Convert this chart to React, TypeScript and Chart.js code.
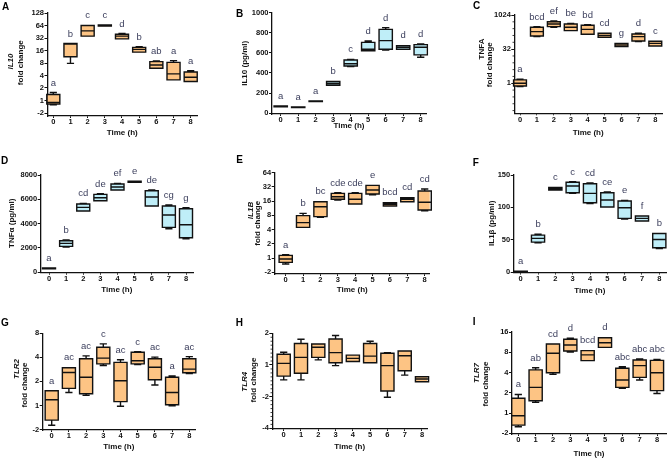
import React, { useEffect, useRef } from "react";
import { Chart, registerables } from "chart.js";

Chart.register(...registerables);

// ---------- data ----------
const HOURS = [0, 1, 2, 3, 4, 5, 6, 7, 8];

// A: IL10 fold change (log2 units)
const A_MIN = [-0.34, 2.97, 5.12, 5.94, 4.91, 3.83, 2.55, 1.62, 1.5];
const A_Q1 = [-0.28, 3.5, 5.15, 5.95, 4.93, 3.87, 2.58, 1.65, 1.52];
const A_MED = [-0.15, 4.52, 5.57, 6.0, 5.15, 4.09, 2.84, 2.13, 1.86];
const A_Q3 = [0.48, 4.56, 6.0, 6.05, 5.3, 4.25, 3.11, 3.05, 2.28];
const A_MAX = [0.64, 4.56, 6.02, 6.07, 5.36, 4.3, 3.16, 3.19, 2.39];
const A_LETTERS = ["a", "b", "c", "c", "d", "b", "ab", "a", "a"];

// B: IL10 (pg/ml)
const B_MIN = [60, 52, 113, 275, 463, 619, 629, 632, 556];
const B_Q1 = [63, 55, 116, 278, 470, 622, 636, 636, 580];
const B_MED = [68, 58, 120, 295, 492, 636, 722, 656, 656];
const B_Q3 = [72, 62, 123, 315, 530, 705, 834, 672, 682];
const B_MAX = [74, 64, 125, 320, 536, 718, 851, 676, 689];
const B_LETTERS = ["a", "a", "a", "b", "c", "d", "d", "d", "d"];

// C: TNFA fold change (log2 units)
const C_MIN = [-0.49, 6.83, 8.2, 7.66, 7.12, 6.68, 5.32, 6.1, 5.41];
const C_Q1 = [-0.39, 6.93, 8.29, 7.71, 7.17, 6.73, 5.37, 6.2, 5.46];
const C_MED = [0.0, 7.56, 8.68, 8.2, 7.9, 7.02, 5.6, 6.83, 5.85];
const C_Q3 = [0.49, 8.2, 9.02, 8.68, 8.49, 7.32, 5.85, 7.22, 6.15];
const C_MAX = [0.59, 8.3, 9.12, 8.78, 8.58, 7.37, 5.9, 7.32, 6.2];
const C_LETTERS = ["a", "bcd", "ef", "be", "bd", "cd", "g", "d", "c"];

// D: TNFα (pg/ml)
const D_MIN = [260, 2062, 5000, 5850, 6740, 7380, 5415, 3574, 2750];
const D_Q1 = [280, 2117, 5031, 5883, 6763, 7400, 5443, 3684, 2831];
const D_MED = [310, 2364, 5333, 6130, 7010, 7450, 6185, 4701, 3904];
const D_Q3 = [340, 2584, 5608, 6405, 7257, 7490, 6708, 5443, 5223];
const D_MAX = [360, 2639, 5660, 6460, 7310, 7510, 6760, 5525, 5305];
const D_LETTERS = ["a", "b", "cd", "de", "ef", "e", "de", "cg", "g"];

// E: IL1B fold change (log2 units)
const E_MIN = [-0.42, 2.14, 2.86, 4.08, 3.78, 4.45, 3.64, 3.94, 3.33];
const E_Q1 = [-0.3, 2.16, 2.91, 4.13, 3.8, 4.5, 3.66, 3.96, 3.38];
const E_MED = [-0.07, 2.49, 3.61, 4.31, 4.13, 4.78, 3.78, 4.13, 3.92];
const E_Q3 = [0.19, 2.98, 3.96, 4.55, 4.55, 5.11, 3.89, 4.24, 4.71];
const E_MAX = [0.24, 3.14, 3.98, 4.6, 4.6, 5.15, 3.92, 4.27, 4.85];
const E_LETTERS = ["a", "b", "bc", "cde", "cde", "e", "bcd", "cd", "cd"];

// F: IL1β (pg/ml)
const F_MIN = [0, 45.4, 126, 121.6, 106, 100, 82, 78.5, 36.6];
const F_Q1 = [0.3, 46.4, 126.8, 122.7, 107.2, 100.5, 83, 78.9, 37.6];
const F_MED = [1, 52.1, 128.9, 133, 121.6, 111.3, 99.5, 83, 50.5];
const F_Q3 = [1.5, 57.2, 130.9, 138.7, 136.6, 122.7, 109.8, 86.6, 59.8];
const F_MAX = [2, 58.8, 131.5, 139.7, 137.6, 123.7, 110.8, 87, 60.3];
const F_LETTERS = ["a", "b", "c", "c", "cd", "ce", "e", "f", "b"];

// G: TLR2 fold change (log2 units)
const G_MIN = [-0.82, 0.54, 0.42, 1.66, -0.03, 1.7, 0.85, -0.01, 1.33];
const G_Q1 = [-0.61, 0.71, 0.49, 1.73, 0.16, 1.73, 1.07, 0.03, 1.36];
const G_MED = [0.24, 1.37, 1.17, 1.97, 1.03, 1.86, 1.59, 0.54, 1.51];
const G_Q3 = [0.61, 1.57, 1.94, 2.42, 1.79, 2.21, 1.94, 1.17, 1.94];
const G_MAX = [0.61, 1.58, 2.06, 2.56, 1.9, 2.24, 2.01, 1.23, 2.03];
const G_LETTERS = ["a", "ac", "ac", "c", "ac", "c", "ac", "a", "ac"];

// H: TLR4 fold change (log2 units)
const H_MIN = [-0.47, -0.47, 0.16, -0.02, 0.1, 0.06, -1.02, -0.32, -0.54];
const H_Q1 = [-0.35, -0.26, 0.24, 0.07, 0.11, 0.07, -0.82, -0.18, -0.53];
const H_MED = [0.05, 0.24, 0.56, 0.39, 0.21, 0.28, -0.02, 0.29, -0.44];
const H_Q3 = [0.34, 0.68, 0.66, 0.82, 0.31, 0.68, 0.37, 0.44, -0.37];
const H_MAX = [0.4, 0.81, 0.66, 0.93, 0.32, 0.75, 0.39, 0.45, -0.36];

// I: TLR7 fold change (log2 units)
const I_MIN = [-0.67, 0.53, 1.91, 3.01, 2.57, 3.22, 1.22, 1.63, 0.97];
const I_Q1 = [-0.59, 0.61, 1.99, 3.06, 2.59, 3.24, 1.27, 1.76, 1.11];
const I_MED = [-0.13, 1.27, 2.95, 3.36, 2.87, 3.47, 1.63, 2.34, 1.99];
const I_Q3 = [0.73, 2.13, 3.41, 3.64, 3.08, 3.72, 2.21, 2.62, 2.6];
const I_MAX = [0.92, 2.24, 3.41, 3.69, 3.1, 3.74, 2.29, 2.67, 2.65];
const I_LETTERS = ["a", "ab", "cd", "d", "bcd", "d", "abc", "abc", "abc"];

// tick values
const TICKS_A = [-1, 0, 1, 2, 3, 4, 5, 6, 7];
const TICKS_B = [0, 200, 400, 600, 800, 1000];
const TICKS_C = [0, 5, 10];
const MINOR_C = [-4, -3, -2, -1, 1, 2, 3, 4, 6, 7, 8, 9];
const TICKS_D = [0, 2000, 4000, 6000, 8000];
const TICKS_E = [-1, 0, 1, 2, 3, 4, 5, 6];
const TICKS_F = [0, 50, 100, 150];
const TICKS_G = [-1, 0, 1, 2, 3];
const TICKS_H = [-2, -1, 0, 1];
const MINOR_H = [-1.875, -1.75, -1.625, -1.5, -1.375, -1.25, -1.125, -0.875, -0.75, -0.625, -0.5, -0.375, -0.25, -0.125, 0.125, 0.25, 0.375, 0.5, 0.625, 0.75, 0.875];
const TICKS_I = [-1, 0, 1, 2, 3, 4];

// ---------- styling / layout ----------
const FONT = "'Liberation Sans', Arial, sans-serif";
const INK = "#111111";
const LETTER_INK = "#3b3e5c";
const ORANGE = "#fdc484";
const BLUE = "#bfeef8";
const TICK_SIZE = 7.5;
const TITLE_SIZE = 8;
const LINE_W = 1.4;

type TitleLine = { text: string; italic: boolean; x: number; y: number };
type PanelDef = {
  id: string;
  min: number[]; q1: number[]; med: number[]; q3: number[]; max: number[];
  letters: string[] | null;
  fill: string;
  log2: boolean;
  yTicks: number[];
  minor: number[] | null;
  yMin: number; yMax: number;
  cell: [number, number, number, number];
  area: [number, number, number, number];
  x0: number; x8: number;
  xTitleY: number;
  tag: [number, number];
  yTitle: TitleLine[];
};

const PANELS: PanelDef[] = [
  { id: "A", min: A_MIN, q1: A_Q1, med: A_MED, q3: A_Q3, max: A_MAX, letters: A_LETTERS, fill: ORANGE, log2: true,
    yTicks: TICKS_A, minor: null, yMin: -1.24, yMax: 7,
    cell: [0, 0, 223, 150], area: [47.5, 13, 197, 116], x0: 53.3, x8: 190.7, xTitleY: 132.7, tag: [2, 9.8],
    yTitle: [{ text: "IL10", italic: true, x: 11, y: 61.5 }, { text: "fold change", italic: false, x: 20.3, y: 62.7 }] },
  { id: "B", min: B_MIN, q1: B_Q1, med: B_MED, q3: B_Q3, max: B_MAX, letters: B_LETTERS, fill: BLUE, log2: false,
    yTicks: TICKS_B, minor: null, yMin: -8, yMax: 1000,
    cell: [223, 0, 446, 150], area: [272, 12.7, 426, 114], x0: 280.7, x8: 420.7, xTitleY: 126, tag: [236, 16.9],
    yTitle: [{ text: "IL10 (pg/ml)", italic: false, x: 244.7, y: 63.3 }] },
  { id: "C", min: C_MIN, q1: C_Q1, med: C_MED, q3: C_Q3, max: C_MAX, letters: C_LETTERS, fill: ORANGE, log2: true,
    yTicks: TICKS_C, minor: MINOR_C, yMin: -4.4, yMax: 10,
    cell: [446, 0, 668, 150], area: [514.3, 15, 662, 113.3], x0: 520, x8: 655.3, xTitleY: 132.7, tag: [473, 9],
    yTitle: [{ text: "TNFA", italic: false, x: 481.8, y: 49 }, { text: "fold change", italic: false, x: 489.3, y: 64.7 }] },
  { id: "D", min: D_MIN, q1: D_Q1, med: D_MED, q3: D_Q3, max: D_MAX, letters: D_LETTERS, fill: BLUE, log2: false,
    yTicks: TICKS_D, minor: null, yMin: -50, yMax: 8000,
    cell: [0, 150, 223, 300], area: [40.7, 175, 193, 272.7], x0: 49, x8: 186, xTitleY: 290, tag: [1, 164],
    yTitle: [{ text: "TNFα (pg/ml)", italic: false, x: 11.7, y: 223.3 }] },
  { id: "E", min: E_MIN, q1: E_Q1, med: E_MED, q3: E_Q3, max: E_MAX, letters: E_LETTERS, fill: ORANGE, log2: true,
    yTicks: TICKS_E, minor: null, yMin: -1.12, yMax: 6,
    cell: [223, 150, 446, 300], area: [274.7, 172.7, 429.7, 274], x0: 285.7, x8: 424.7, xTitleY: 289.3, tag: [236.3, 163.3],
    yTitle: [{ text: "IL1B", italic: true, x: 250.8, y: 210.5 }, { text: "fold change", italic: false, x: 257.5, y: 223.3 }] },
  { id: "F", min: F_MIN, q1: F_Q1, med: F_MED, q3: F_Q3, max: F_MAX, letters: F_LETTERS, fill: BLUE, log2: false,
    yTicks: TICKS_F, minor: null, yMin: -0.5, yMax: 150,
    cell: [446, 150, 668, 300], area: [513.7, 175, 666, 272.5], x0: 520.7, x8: 659.3, xTitleY: 291, tag: [472.7, 165.8],
    yTitle: [{ text: "IL1β (pg/ml)", italic: false, x: 491.5, y: 223.3 }] },
  { id: "G", min: G_MIN, q1: G_Q1, med: G_MED, q3: G_Q3, max: G_MAX, letters: G_LETTERS, fill: ORANGE, log2: true,
    yTicks: TICKS_G, minor: null, yMin: -1.02, yMax: 3,
    cell: [0, 300, 223, 458], area: [42.7, 333.3, 195, 430], x0: 51.7, x8: 189.3, xTitleY: 446.7, tag: [1, 326],
    yTitle: [{ text: "TLR2", italic: true, x: 16.7, y: 369 }, { text: "fold change", italic: false, x: 24.5, y: 385 }] },
  { id: "H", min: H_MIN, q1: H_Q1, med: H_MED, q3: H_Q3, max: H_MAX, letters: null, fill: ORANGE, log2: true,
    yTicks: TICKS_H, minor: MINOR_H, yMin: -2.02, yMax: 1,
    cell: [223, 300, 446, 458], area: [272.3, 333.3, 427, 429], x0: 283.7, x8: 422, xTitleY: 446.7, tag: [235.7, 326],
    yTitle: [{ text: "TLR4", italic: true, x: 245.2, y: 381.7 }, { text: "fold change", italic: false, x: 254.2, y: 380 }] },
  { id: "I", min: I_MIN, q1: I_Q1, med: I_MED, q3: I_Q3, max: I_MAX, letters: I_LETTERS, fill: ORANGE, log2: true,
    yTicks: TICKS_I, minor: null, yMin: -1.03, yMax: 4,
    cell: [446, 300, 668, 458], area: [512, 332, 666, 434], x0: 518.3, x8: 657, xTitleY: 453.3, tag: [472.7, 325.3],
    yTitle: [{ text: "TLR7", italic: true, x: 476.8, y: 373 }, { text: "fold change", italic: false, x: 485.7, y: 384 }] },
];

function log2Label(v: number): string {
  if (v >= 0) return String(Math.round(Math.pow(2, v)));
  return String(-Math.round(Math.pow(2, -v)));
}

function extrasPlugin(p: PanelDef) {
  return {
    id: "boxExtras" + p.id,
    afterDatasetsDraw(chart: any) {
      const { ctx } = chart;
      const xs = chart.scales.x;
      const ys = chart.scales.y;
      const meta = chart.getDatasetMeta(0);
      const [cx, cy] = p.cell;
      ctx.save();
      ctx.strokeStyle = INK;
      ctx.lineWidth = LINE_W;
      HOURS.forEach((h, i) => {
        const el: any = meta.data[i];
        const x = xs.getPixelForValue(h);
        const hw = el.width / 2;
        const cap = hw * 0.55;
        const yq1 = ys.getPixelForValue(p.q1[i]);
        const yq3 = ys.getPixelForValue(p.q3[i]);
        const ymin = ys.getPixelForValue(p.min[i]);
        const ymax = ys.getPixelForValue(p.max[i]);
        const ymed = ys.getPixelForValue(p.med[i]);
        ctx.beginPath();
        // box outline
        ctx.rect(x - hw, yq3, hw * 2, yq1 - yq3);
        if (yq3 - ymax > 0.6) {
          ctx.moveTo(x, yq3); ctx.lineTo(x, ymax);
          ctx.moveTo(x - cap, ymax); ctx.lineTo(x + cap, ymax);
        }
        if (ymin - yq1 > 0.6) {
          ctx.moveTo(x, yq1); ctx.lineTo(x, ymin);
          ctx.moveTo(x - cap, ymin); ctx.lineTo(x + cap, ymin);
        }
        ctx.moveTo(x - hw, ymed); ctx.lineTo(x + hw, ymed);
        ctx.stroke();
        if (p.letters) {
          ctx.fillStyle = LETTER_INK;
          ctx.font = `9.5px ${FONT}`;
          ctx.textAlign = "center";
          ctx.textBaseline = "alphabetic";
          ctx.fillText(p.letters[i], x, Math.min(ymax, yq3) - 7);
        }
      });
      // minor ticks
      if (p.minor) {
        ctx.beginPath();
        ctx.lineWidth = 0.8;
        p.minor.forEach((v) => {
          const y = ys.getPixelForValue(v);
          ctx.moveTo(chart.chartArea.left - 1.8, y);
          ctx.lineTo(chart.chartArea.left, y);
        });
        ctx.stroke();
      }
      // y-axis titles
      ctx.fillStyle = INK;
      ctx.textAlign = "center";
      ctx.textBaseline = "middle";
      p.yTitle.forEach((t) => {
        ctx.save();
        ctx.translate(t.x - cx, t.y - cy);
        ctx.rotate(-Math.PI / 2);
        ctx.font = `${t.italic ? "italic " : ""}bold ${TITLE_SIZE}px ${FONT}`;
        ctx.fillText(t.text, 0, 0);
        ctx.restore();
      });
      // panel tag
      ctx.font = `bold 10px ${FONT}`;
      ctx.textAlign = "left";
      ctx.textBaseline = "alphabetic";
      ctx.fillStyle = "#000";
      ctx.fillText(p.id, p.tag[0] - cx, p.tag[1] - cy);
      ctx.restore();
    },
  };
}

function buildConfig(p: PanelDef): any {
  const [cx, cy, cr, cb] = p.cell;
  const [L, T, R, B] = p.area;
  const sp = (p.x8 - p.x0) / 8;
  const xMin = -(p.x0 - L) / sp;
  const xMax = 8 + (R - p.x8) / sp;
  const tickFont = { family: FONT, size: TICK_SIZE, weight: "bold", lineHeight: 1 };
  return {
    type: "bar",
    data: {
      datasets: [
        {
          data: HOURS.map((h, i) => ({ x: h, y: [p.q1[i], p.q3[i]] })),
          backgroundColor: p.fill,
          borderWidth: 0,
          barPercentage: 0.76,
          categoryPercentage: 1,
        },
      ],
    },
    options: {
      responsive: false,
      animation: false,
      events: [],
      layout: { padding: { left: 0, top: T - cy, right: cr - R, bottom: 0 } },
      plugins: { legend: { display: false }, tooltip: { enabled: false } },
      scales: {
        x: {
          type: "linear",
          min: xMin,
          max: xMax,
          offset: false,
          afterBuildTicks: (s: any) => { s.ticks = HOURS.map((v) => ({ value: v })); },
          afterFit: (s: any) => { s.height = cb - B; },
          grid: { display: true, drawOnChartArea: false, drawTicks: true, tickLength: 2, tickColor: INK, tickWidth: 1, offset: false },
          border: { display: true, color: INK, width: 1.3 },
          ticks: { autoSkip: false, maxRotation: 0, padding: 0.5, color: INK, font: tickFont, callback: (v: any) => String(v) },
          title: {
            display: true, text: "Time (h)", color: INK,
            font: { family: FONT, size: TITLE_SIZE, weight: "bold", lineHeight: 1 },
            padding: { top: 0, bottom: cb - p.xTitleY - TITLE_SIZE / 2 },
          },
        },
        y: {
          type: "linear",
          min: p.yMin,
          max: p.yMax,
          afterBuildTicks: (s: any) => { s.ticks = p.yTicks.map((v) => ({ value: v })); },
          afterFit: (s: any) => { s.width = L - cx; },
          grid: { display: true, drawOnChartArea: false, drawTicks: true, tickLength: 3, tickColor: INK, tickWidth: 1 },
          border: { display: true, color: INK, width: 1.3 },
          ticks: { autoSkip: false, padding: 0.5, color: INK, font: tickFont, callback: (v: any) => (p.log2 ? log2Label(v) : String(v)) },
        },
      },
    },
    plugins: [extrasPlugin(p)],
  };
}

function Panel({ def }: { def: PanelDef }) {
  const ref = useRef<HTMLCanvasElement | null>(null);
  useEffect(() => {
    if (!ref.current) return;
    const chart = new Chart(ref.current, buildConfig(def));
    return () => chart.destroy();
  }, [def]);
  const [cx, cy, cr, cb] = def.cell;
  return (
    <canvas
      ref={ref}
      width={cr - cx}
      height={cb - cy}
      style={{ position: "absolute", left: cx, top: cy, width: cr - cx, height: cb - cy }}
    />
  );
}

export default function App() {
  return (
    <div style={{ position: "absolute", left: 0, top: 0, width: 668, height: 458, background: "#fff", overflow: "hidden" }}>
      {PANELS.map((p) => (
        <Panel key={p.id} def={p} />
      ))}
    </div>
  );
}
